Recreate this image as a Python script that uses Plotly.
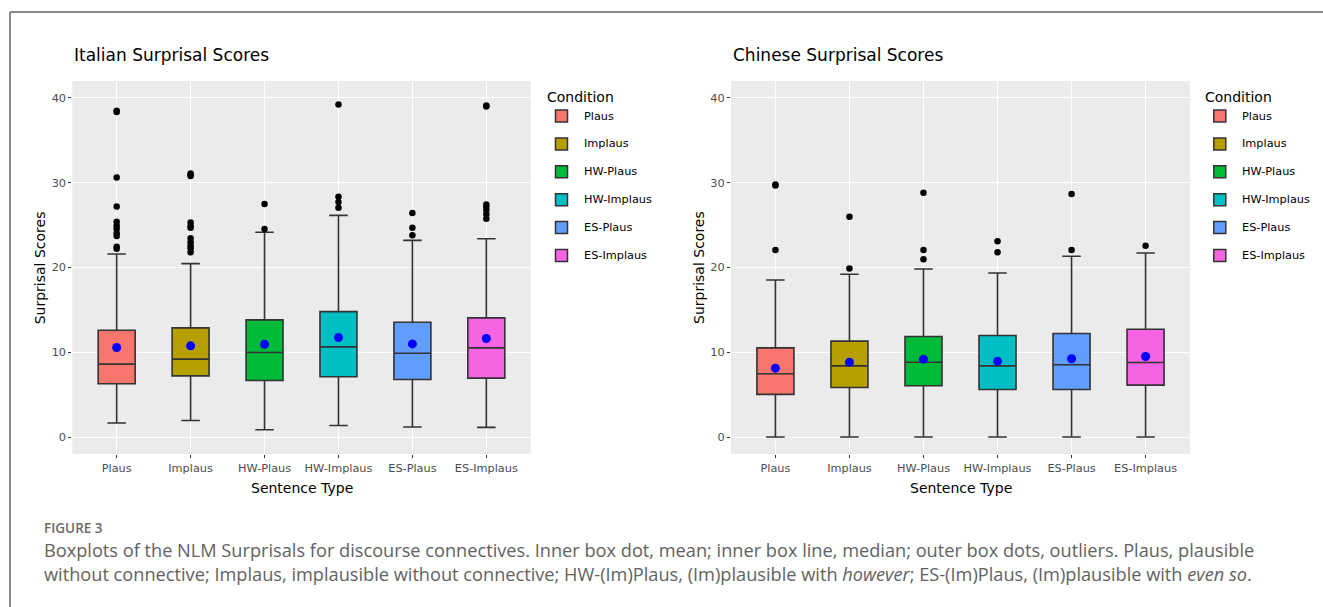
import plotly.graph_objects as go

W, H = 1323, 607

categories = ["Plaus", "Implaus", "HW-Plaus", "HW-Implaus", "ES-Plaus", "ES-Implaus"]
fill_colors = ["#F8766D", "#B79F00", "#00BA38", "#00BFC4", "#619CFF", "#F564E3"]

# Italian panel
it_lower = [1.65, 1.96, 0.86, 1.37, 1.18, 1.14]
it_q1 = [6.28, 7.22, 6.67, 7.11, 6.79, 6.95]
it_median = [8.60, 9.19, 9.97, 10.64, 9.89, 10.52]
it_q3 = [12.60, 12.88, 13.82, 14.80, 13.55, 14.06]
it_upper = [21.59, 20.46, 24.15, 26.15, 23.20, 23.40]
it_mean = [10.56, 10.76, 10.95, 11.74, 10.99, 11.62]
it_outliers = [
    [38.35, 38.5, 30.62, 27.21, 25.40, 24.93, 24.54, 24.03, 23.71, 22.46, 22.22],
    [31.10, 30.95, 30.78, 25.32, 24.90, 24.70, 23.44, 22.97, 22.58, 22.26, 21.79],
    [27.48, 24.54],
    [39.22, 28.35, 27.72, 27.05],
    [26.42, 24.70, 23.79],
    [39.10, 39.0, 27.44, 27.13, 26.78, 26.27, 25.76],
]

# Chinese panel
zh_lower = [0.0, 0.0, 0.0, 0.0, 0.0, 0.0]
zh_q1 = [5.03, 5.85, 6.05, 5.61, 5.61, 6.12]
zh_median = [7.46, 8.40, 8.83, 8.40, 8.52, 8.79]
zh_q3 = [10.52, 11.31, 11.86, 11.97, 12.21, 12.72]
zh_upper = [18.53, 19.20, 19.83, 19.36, 21.32, 21.71]
zh_mean = [8.13, 8.83, 9.19, 8.95, 9.23, 9.50]
zh_outliers = [
    [29.68, 29.80, 22.07],
    [25.99, 19.87],
    [28.82, 22.07, 20.97],
    [23.09, 21.79],
    [28.66, 22.07],
    [22.58],
]

y_ticks = [0, 10, 20, 30, 40]
panel_titles = ["Italian Surprisal Scores", "Chinese Surprisal Scores"]
x_title = "Sentence Type"
y_title = "Surprisal Scores"
legend_title = "Condition"
figure_label = "FIGURE 3"
caption_line1 = ("Boxplots of the NLM Surprisals for discourse connectives. Inner box dot, mean; "
                 "inner box line, median; outer box dots, outliers. Plaus, plausible")
caption_line2 = ("without connective; Implaus, implausible without connective; HW-(Im)Plaus, "
                 "(Im)plausible with <i>however</i>; ES-(Im)Plaus, (Im)plausible with <i>even so</i>.")

FONT = "DejaVu Sans"


def px(x):
    return x / W


def py(y):
    return 1 - y / H


fig = go.Figure()

panels = [
    dict(lower=it_lower, q1=it_q1, med=it_median, q3=it_q3, upper=it_upper, mean=it_mean,
         out=it_outliers, xa="x", ya="y", x0=72.3, x1=530.7),
    dict(lower=zh_lower, q1=zh_q1, med=zh_median, q3=zh_q3, upper=zh_upper, mean=zh_mean,
         out=zh_outliers, xa="x2", ya="y2", x0=731.0, x1=1190.0),
]

for p in panels:
    for i, cat in enumerate(categories):
        fig.add_trace(go.Box(
            x=[cat], q1=[p["q1"][i]], median=[p["med"][i]], q3=[p["q3"][i]],
            lowerfence=[p["lower"][i]], upperfence=[p["upper"][i]],
            fillcolor=fill_colors[i], line=dict(color="#333333", width=1.6),
            width=0.5, whiskerwidth=0.5, boxpoints=False, showlegend=False,
            xaxis=p["xa"], yaxis=p["ya"], hoverinfo="skip",
        ))
    ox, oy = [], []
    for i, cat in enumerate(categories):
        for v in p["out"][i]:
            ox.append(cat)
            oy.append(v)
    fig.add_trace(go.Scatter(
        x=ox, y=oy, mode="markers", marker=dict(color="black", size=6.5),
        showlegend=False, xaxis=p["xa"], yaxis=p["ya"], hoverinfo="skip",
    ))
    fig.add_trace(go.Scatter(
        x=categories, y=p["mean"], mode="markers", marker=dict(color="#0000FF", size=9),
        showlegend=False, xaxis=p["xa"], yaxis=p["ya"], hoverinfo="skip",
    ))

plot_top, plot_bot = 81.0, 454.0

axis_common_x = dict(
    type="category", categoryorder="array", categoryarray=categories,
    range=[-0.6, 5.6], showgrid=True, gridcolor="white", gridwidth=1.1,
    zeroline=False, showline=False, ticks="outside", ticklen=3, tickwidth=1,
    tickcolor="#333333", tickfont=dict(family=FONT, size=11.3, color="#4d4d4d"),
)
axis_common_y = dict(
    range=[-2, 42], tickvals=y_ticks, showgrid=True, gridcolor="white", gridwidth=1.1,
    zeroline=False, showline=False, ticks="outside", ticklen=3, tickwidth=1,
    tickcolor="#333333", tickfont=dict(family=FONT, size=11.3, color="#4d4d4d"),
)

fig.update_layout(
    width=W, height=H, autosize=False,
    margin=dict(l=0, r=0, t=0, b=0, pad=0),
    paper_bgcolor="white", plot_bgcolor="#EBEBEB",
    showlegend=False,
    xaxis=dict(domain=[px(panels[0]["x0"]), px(panels[0]["x1"])], anchor="y", **axis_common_x),
    yaxis=dict(domain=[py(plot_bot), py(plot_top)], anchor="x", **axis_common_y),
    xaxis2=dict(domain=[px(panels[1]["x0"]), px(panels[1]["x1"])], anchor="y2", **axis_common_x),
    yaxis2=dict(domain=[py(plot_bot), py(plot_top)], anchor="x2", **axis_common_y),
)

shapes = []
annotations = []

# Frame
shapes.append(dict(type="line", xref="paper", yref="paper", x0=px(10), x1=1.0, y0=py(12), y1=py(12),
                   line=dict(color="#8a8a8a", width=2)))
shapes.append(dict(type="line", xref="paper", yref="paper", x0=px(10), x1=px(10), y0=py(12), y1=0,
                   line=dict(color="#8a8a8a", width=2)))

legend_x = [545.0, 1203.3]
for k, p in enumerate(panels):
    # title
    annotations.append(dict(text=panel_titles[k], xref="paper", yref="paper", x=px(p["x0"]), y=py(54.5),
                            xanchor="left", yanchor="middle", showarrow=False,
                            font=dict(family=FONT, size=17, color="black")))
    # axis titles
    annotations.append(dict(text=x_title, xref="paper", yref="paper", x=px((p["x0"] + p["x1"]) / 2),
                            y=py(488), xanchor="center", yanchor="middle", showarrow=False,
                            font=dict(family=FONT, size=14, color="black")))
    annotations.append(dict(text=y_title, xref="paper", yref="paper", x=px(p["x0"] - 32.5),
                            y=py((plot_top + plot_bot) / 2), xanchor="center", yanchor="middle",
                            textangle=-90, showarrow=False,
                            font=dict(family=FONT, size=14, color="black")))
    # manual legend
    lx = legend_x[k]
    annotations.append(dict(text=legend_title, xref="paper", yref="paper", x=px(lx), y=py(96.5),
                            xanchor="left", yanchor="middle", showarrow=False,
                            font=dict(family=FONT, size=14, color="black")))
    for i, cat in enumerate(categories):
        cy = 116.0 + 27.9 * i
        shapes.append(dict(type="rect", xref="paper", yref="paper",
                           x0=px(lx + 10.5), x1=px(lx + 22.5), y0=py(cy + 6), y1=py(cy - 6),
                           fillcolor=fill_colors[i], line=dict(color="#333333", width=1.5)))
        annotations.append(dict(text=cat, xref="paper", yref="paper", x=px(lx + 36.5), y=py(cy),
                                xanchor="left", yanchor="middle", showarrow=False,
                                font=dict(family=FONT, size=11.3, color="black")))

# Caption
CAP_FONT = "Open Sans"
annotations.append(dict(text=figure_label, xref="paper", yref="paper", x=px(42), y=py(527.5),
                        xanchor="left", yanchor="middle", showarrow=False,
                        font=dict(family=CAP_FONT, size=13.5, color="#6b6b6b", weight=600)))
annotations.append(dict(text=caption_line1, xref="paper", yref="paper", x=px(42), y=py(550),
                        xanchor="left", yanchor="middle", showarrow=False,
                        font=dict(family=CAP_FONT, size=18.2, color="#626262")))
annotations.append(dict(text=caption_line2, xref="paper", yref="paper", x=px(42), y=py(574),
                        xanchor="left", yanchor="middle", showarrow=False,
                        font=dict(family=CAP_FONT, size=18.2, color="#626262")))

fig.update_layout(shapes=shapes, annotations=annotations)

fig.write_html("out.html")
